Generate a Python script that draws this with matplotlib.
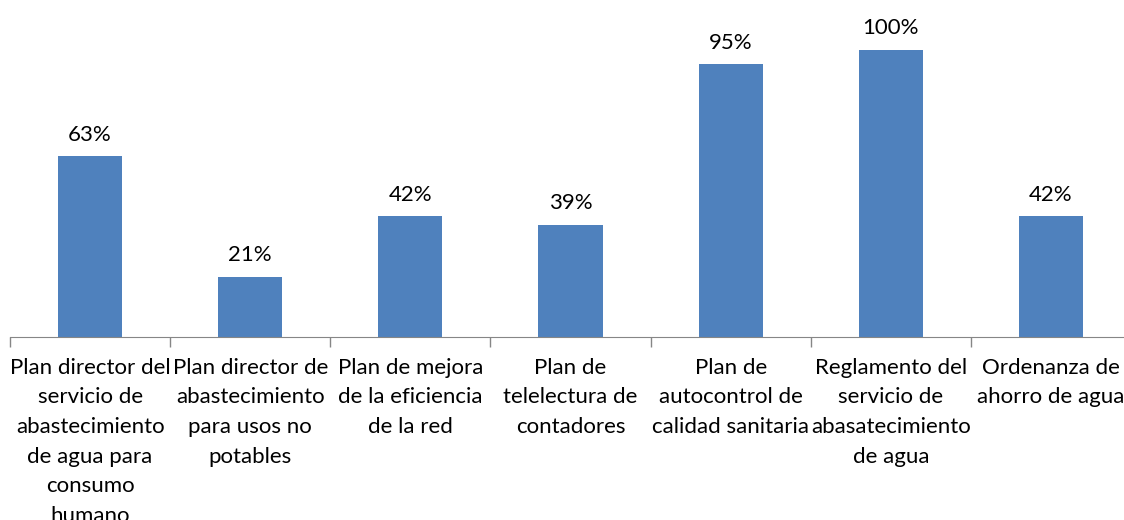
import matplotlib.pyplot as plt
import numpy as np

categorias = [
    "Plan director del\nservicio de\nabastecimiento\nde agua para\nconsumo\nhumano",
    "Plan director de\nabastecimiento\npara usos no\npotables",
    "Plan de mejora\nde la eficiencia\nde la red",
    "Plan de\ntelelectura de\ncontadores",
    "Plan de\nautocontrol de\ncalidad sanitaria",
    "Reglamento del\nservicio de\nabasatecimiento\nde agua",
    "Ordenanza de\nahorro de agua",
]
porcentajes = [63, 21, 42, 39, 95, 100, 42]

plt.rcParams['font.family'] = ['Lato', 'DejaVu Sans']

fig = plt.figure(figsize=(11.24, 5.2), dpi=100)
ax = fig.add_axes([10 / 1124, 183 / 520, 1121 / 1124, 316 / 520])

x = np.arange(len(categorias)) + 0.5
ax.bar(x, porcentajes, width=0.4, color='#4F81BD')

# etiquetas de valor encima de cada barra
for xi, v in zip(x, porcentajes):
    ax.text(xi, v + 4, f"{v}%", ha='center', va='bottom', fontsize=16)

ax.set_xlim(0, 7)
ax.set_ylim(0, 110)
ax.set_yticks([])
ax.set_xticks(np.arange(8))
ax.set_xticklabels([])
ax.set_xticks(x, minor=True)
ax.set_xticklabels(categorias, minor=True, fontsize=16, linespacing=1.6)
ax.tick_params(axis='x', which='major', length=7, color='#868686', width=1)
ax.tick_params(axis='x', which='minor', length=0, pad=15)

for lado in ['top', 'right', 'left']:
    ax.spines[lado].set_visible(False)
ax.spines['bottom'].set_color('#868686')

fig.savefig('out.png', dpi=100)
